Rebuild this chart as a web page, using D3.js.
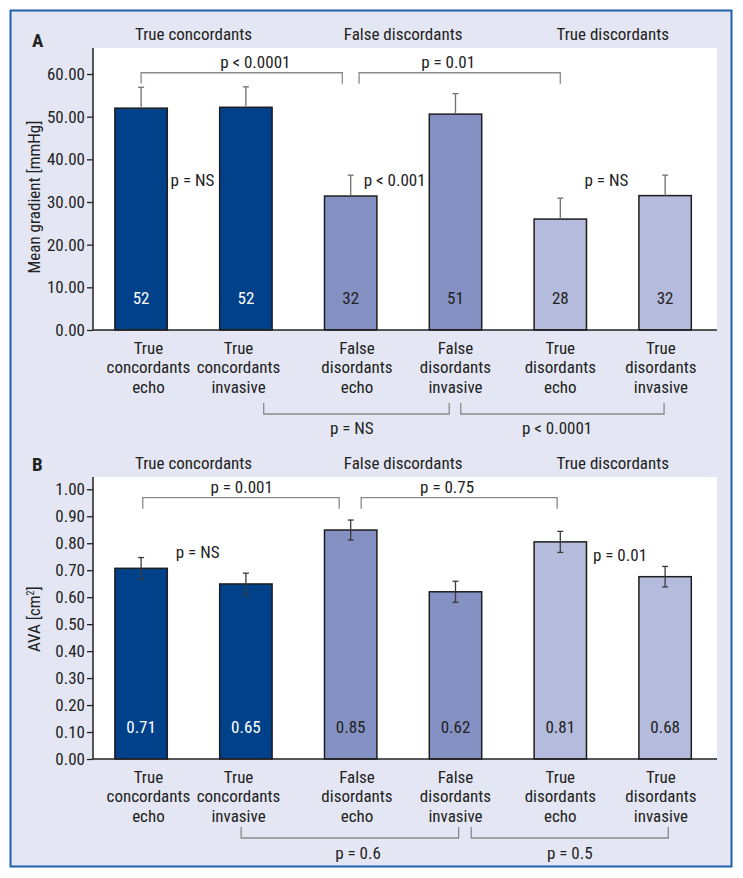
<!DOCTYPE html>
<html>
<head>
<meta charset="utf-8">
<script src="https://cdn.jsdelivr.net/npm/d3@7/dist/d3.min.js"></script>
<style>
    body { margin: 0; background: #fff; }
    svg text { font-family: 'Liberation Sans Narrow', 'Arial Narrow', 'Roboto Condensed', 'DejaVu Sans Condensed', sans-serif; fill: #222; }
</style>
</head>
<body>
<svg width="743" height="878"></svg>
<script>
    // data
    var categories = ["True concordants echo", "True concordants invasive",
        "False disordants echo", "False disordants invasive",
        "True disordants echo", "True disordants invasive"];
    var groups = ["True concordants", "False discordants", "True discordants"];
    var barColors = ["#00418a", "#00418a", "#8591c3", "#8591c3", "#b4bbdc", "#b4bbdc"];
    var labelColors = ["#fff", "#fff", "#222", "#222", "#222", "#222"];

    var gradientMean = [52.0, 52.2, 31.4, 50.6, 26.0, 31.5];
    var gradientErr = [4.9, 4.8, 4.9, 4.8, 4.9, 4.8];
    var gradientLabels = ["52", "52", "32", "51", "28", "32"];
    var gradientTicks = [0, 10, 20, 30, 40, 50, 60];

    var avaMean = [0.707, 0.649, 0.849, 0.620, 0.805, 0.676];
    var avaErr = [0.040, 0.040, 0.037, 0.039, 0.039, 0.038];
    var avaLabels = ["0.71", "0.65", "0.85", "0.62", "0.81", "0.68"];
    var avaTicks = [0, 0.1, 0.2, 0.3, 0.4, 0.5, 0.6, 0.7, 0.8, 0.9, 1.0];

    // p-value annotations: x in bar-index units, y in axis units
    var gradientTopP = [{ a: 0, b: 1.92, tx: 1.09, text: "p < 0.0001" }, { a: 2.08, b: 4.0, tx: 2.93, text: "p = 0.01" }];
    var gradientMidP = [{ tx: 0.49, ty: 33.8, text: "p = NS" }, { tx: 2.42, ty: 33.8, text: "p < 0.001" }, { tx: 4.44, ty: 33.8, text: "p = NS" }];
    var gradientLowP = [{ a: 1.17, b: 2.94, tx: 2.01, text: "p = NS" }, { a: 3.05, b: 4.99, tx: 3.97, text: "p < 0.0001" }];

    var avaTopP = [{ a: 0.016, b: 1.89, tx: 0.96, text: "p = 0.001" }, { a: 2.10, b: 3.97, tx: 2.92, text: "p = 0.75" }];
    var avaMidP = [{ tx: 0.54, ty: 0.746, text: "p = NS" }, { tx: 4.57, ty: 0.734, text: "p = 0.01" }];
    var avaLowP = [{ a: 0.955, b: 3.03, tx: 2.07, text: "p = 0.6" }, { a: 3.15, b: 5.03, tx: 4.09, text: "p = 0.5" }];

    var svg = d3.select("svg");
    var left = 93, right = 717;
    // small horizontal nudges of the category labels, in bar-index units
    var catNudge = [0.07, -0.07, 0.06, 0, 0, -0.04];

    svg.append("rect")
        .attr("x", 10.5).attr("y", 10.5)
        .attr("width", 721).attr("height", 856)
        .style("fill", "#e4e7f3")
        .style("stroke", "#1f5fae")
        .style("stroke-width", 2);

    var x = d3.scaleBand()
        .domain(d3.range(categories.length))
        .range([left, right])
        .paddingInner(0.5)
        .paddingOuter(0.227)
        .align(0.46);

    function cx(i) {
        return x(0) + x.bandwidth() / 2 + i * x.step();
    }

    function drawPanel(p) {
        var y = d3.scaleLinear().domain([0, p.ymax]).range([p.bottom, p.top]);
        var g = svg.append("g");

        g.append("rect")
            .attr("x", left).attr("y", p.top)
            .attr("width", right - left).attr("height", p.bottom - p.top)
            .style("fill", "#fff");

        g.append("text")
            .attr("x", 32).attr("y", p.letterY)
            .style("font-size", "19px").style("font-weight", "bold")
            .text(p.letter);

        g.selectAll(".group")
            .data(groups)
            .enter().append("text")
            .attr("x", function(d, i) { return cx(2 * i + 0.5); })
            .attr("y", p.top - 8)
            .attr("text-anchor", "middle")
            .style("font-size", "17px")
            .text(function(d) { return d; });

        g.selectAll(".bar")
            .data(p.mean)
            .enter().append("rect")
            .attr("x", function(d, i) { return x(i); })
            .attr("y", function(d) { return y(d); })
            .attr("width", x.bandwidth())
            .attr("height", function(d) { return p.bottom - y(d); })
            .style("fill", function(d, i) { return barColors[i]; })
            .style("stroke", "#1e1e1e")
            .style("stroke-width", 1.5);

        // error bars
        var err = g.selectAll(".err")
            .data(p.mean)
            .enter().append("g")
            .style("stroke", p.errColor)
            .style("stroke-width", 1.3);
        err.append("line")
            .attr("x1", function(d, i) { return cx(i); })
            .attr("x2", function(d, i) { return cx(i); })
            .attr("y1", function(d, i) { return y(p.both ? d - p.err[i] : d); })
            .attr("y2", function(d, i) { return y(d + p.err[i]); });
        err.append("line")
            .attr("x1", function(d, i) { return cx(i) - 3; })
            .attr("x2", function(d, i) { return cx(i) + 3; })
            .attr("y1", function(d, i) { return y(d + p.err[i]); })
            .attr("y2", function(d, i) { return y(d + p.err[i]); });
        if (p.both) {
            err.append("line")
                .attr("x1", function(d, i) { return cx(i) - 3; })
                .attr("x2", function(d, i) { return cx(i) + 3; })
                .attr("y1", function(d, i) { return y(d - p.err[i]); })
                .attr("y2", function(d, i) { return y(d - p.err[i]); });
        }

        g.selectAll(".val")
            .data(p.labels)
            .enter().append("text")
            .attr("x", function(d, i) { return cx(i); })
            .attr("y", p.bottom - 26)
            .attr("text-anchor", "middle")
            .style("font-size", "17px")
            .style("fill", function(d, i) { return labelColors[i]; })
            .text(function(d) { return d; });

        // axes
        var yAxis = g.append("g")
            .attr("class", "axis axis--y")
            .attr("transform", "translate(" + left + ",0)")
            .call(d3.axisLeft(y).tickValues(p.ticks).tickFormat(d3.format(".2f")).tickSize(6).tickPadding(2));
        yAxis.select(".domain").remove();
        yAxis.selectAll("line").style("stroke", "#222").style("stroke-width", 1.3);
        yAxis.selectAll("text").style("font-size", "17px");
        yAxis.attr("font-family", null).attr("font-size", null);

        g.append("line")
            .attr("x1", left).attr("x2", left)
            .attr("y1", p.top).attr("y2", p.bottom)
            .style("stroke", "#222").style("stroke-width", 1.5);
        g.append("line")
            .attr("x1", left).attr("x2", right)
            .attr("y1", p.bottom).attr("y2", p.bottom)
            .style("stroke", "#222").style("stroke-width", 1.5);

        var ty = g.append("text")
            .attr("transform", "translate(40," + ((y(0) + y(p.ticks[p.ticks.length - 1])) / 2 - 5) + ") rotate(-90)")
            .attr("text-anchor", "middle")
            .style("font-size", "17px");
        ty.append("tspan").text(p.yTitle[0]);
        if (p.yTitle.length > 1) {
            ty.append("tspan").attr("dy", -6).style("font-size", "10px").text(p.yTitle[1]);
            ty.append("tspan").attr("dy", 6).text(p.yTitle[2]);
        }

        // category labels
        var cat = g.selectAll(".cat")
            .data(categories)
            .enter().append("text")
            .attr("text-anchor", "middle")
            .style("font-size", "17px");
        cat.selectAll("tspan")
            .data(function(d, i) { return d.split(" ").map(function(w) { return { w: w, i: i }; }); })
            .enter().append("tspan")
            .attr("x", function(d) { return cx(d.i + catNudge[d.i]); })
            .attr("y", function(d, j) { return p.bottom + 24 + j * 19.3; })
            .text(function(d) { return d.w; });

        // brackets above
        var bracketStyle = function(s) {
            s.style("fill", "none").style("stroke", "#8a8a8a").style("stroke-width", 1.3);
        };
        p.topP.forEach(function(b) {
            var yy = y(p.topY);
            g.append("path")
                .attr("d", "M" + cx(b.a) + "," + (yy + 11) + "V" + yy + "H" + cx(b.b) + "V" + (yy + 11))
                .call(bracketStyle);
            g.append("text")
                .attr("x", cx(b.tx)).attr("y", yy - 5)
                .attr("text-anchor", "middle")
                .style("font-size", "17px")
                .text(b.text);
        });

        p.midP.forEach(function(b) {
            g.append("text")
                .attr("x", cx(b.tx)).attr("y", y(b.ty))
                .attr("text-anchor", "middle")
                .style("font-size", "17px")
                .text(b.text);
        });

        // brackets below
        p.lowP.forEach(function(b) {
            var yl = p.bottom + p.low[1];
            g.append("path")
                .attr("d", "M" + cx(b.a) + "," + (p.bottom + p.low[0]) + "V" + yl + "H" + cx(b.b) + "V" + (p.bottom + p.low[0]))
                .call(bracketStyle);
            g.append("text")
                .attr("x", cx(b.tx)).attr("y", p.bottom + p.low[2])
                .attr("text-anchor", "middle")
                .style("font-size", "17px")
                .text(b.text);
        });
    }

    drawPanel({
        letter: "A", letterY: 47, top: 48, bottom: 330, ymax: 66.1,
        mean: gradientMean, err: gradientErr, labels: gradientLabels, ticks: gradientTicks,
        both: false, errColor: "#707070", yTitle: ["Mean gradient [mmHg]"],
        topY: 60.3, topP: gradientTopP, midP: gradientMidP, lowP: gradientLowP, low: [73, 84, 104]
    });

    drawPanel({
        letter: "B", letterY: 471, top: 477, bottom: 759, ymax: 1.0456,
        mean: avaMean, err: avaErr, labels: avaLabels, ticks: avaTicks,
        both: true, errColor: "#3a3a3a", yTitle: ["AVA [cm", "2", "]"],
        topY: 0.969, topP: avaTopP, midP: avaMidP, lowP: avaLowP, low: [68, 79, 100]
    });
</script>
</body>
</html>
